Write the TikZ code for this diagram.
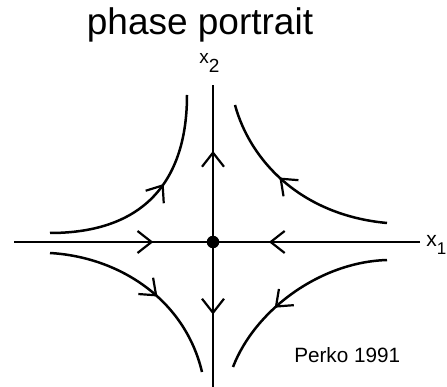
\documentclass[tikz,border=0pt]{standalone}
\usepackage{fontspec}
\setmainfont{Liberation Sans}
\usetikzlibrary{arrows.meta,decorations.markings}
\begin{document}
\begin{tikzpicture}[x=1pt, y=-1pt, line width=2.5pt,
    flow/.style={postaction={decorate}, decoration={markings,
        mark=at position #1 with {\arrow{Straight Barb[length=14pt,width=22pt,line width=2.2pt]}}}},
    lbl/.style={inner sep=0pt, anchor=base west}]
    \useasboundingbox (0,0) rectangle (447,387);
    \clip (0,0) rectangle (447,387);
    \node[anchor=base, inner sep=0pt, font=\fontsize{37}{40}\selectfont] (title) at (200,35) {phase portrait};
    % axes
    \coordinate (o) at (213,242);
    \coordinate (w) at (14,242);
    \coordinate (e) at (420,242);
    \coordinate (n) at (213,85);
    \coordinate (s) at (213,390);
    \draw[flow=0.7] (w)--(o);
    \draw[flow=0.73] (e)--(o);
    \draw[flow=0.58] (o)--(n);
    \draw[flow=0.49] (o)--(s);
    \node[circle, fill, inner sep=0pt, minimum size=12.5pt] (p) at (o) {};
    \node[lbl, font=\fontsize{19}{20}\selectfont] (x2) at (198,64) {x\raisebox{-9pt}{2}};
    \node[lbl, font=\fontsize{21}{22}\selectfont] (x1) at (425,247) {x\raisebox{-8pt}{\fontsize{17}{18}\selectfont 1}};
    % trajectories
    \coordinate (ul1) at (50,233);  \coordinate (ul2) at (187,95);
    \coordinate (ur1) at (387,223); \coordinate (ur2) at (235,105);
    \coordinate (ll1) at (50,253);  \coordinate (ll2) at (202,372);
    \coordinate (lr1) at (387,260); \coordinate (lr2) at (233,367);
    \draw[flow=0.58] (ul1) .. controls (145,233) and (187,180) .. (ul2);
    \draw[flow=0.58] (ur1) .. controls (300,215) and (250,160) .. (ur2);
    \draw[flow=0.57] (ll1) .. controls (120,257) and (185,300) .. (ll2);
    \draw[flow=0.63] (lr1) .. controls (320,262) and (255,310) .. (lr2);
    \node[lbl, font=\fontsize{20.7}{22}\selectfont] (ref) at (293,362) {Perko 1991};
\end{tikzpicture}
\end{document}
